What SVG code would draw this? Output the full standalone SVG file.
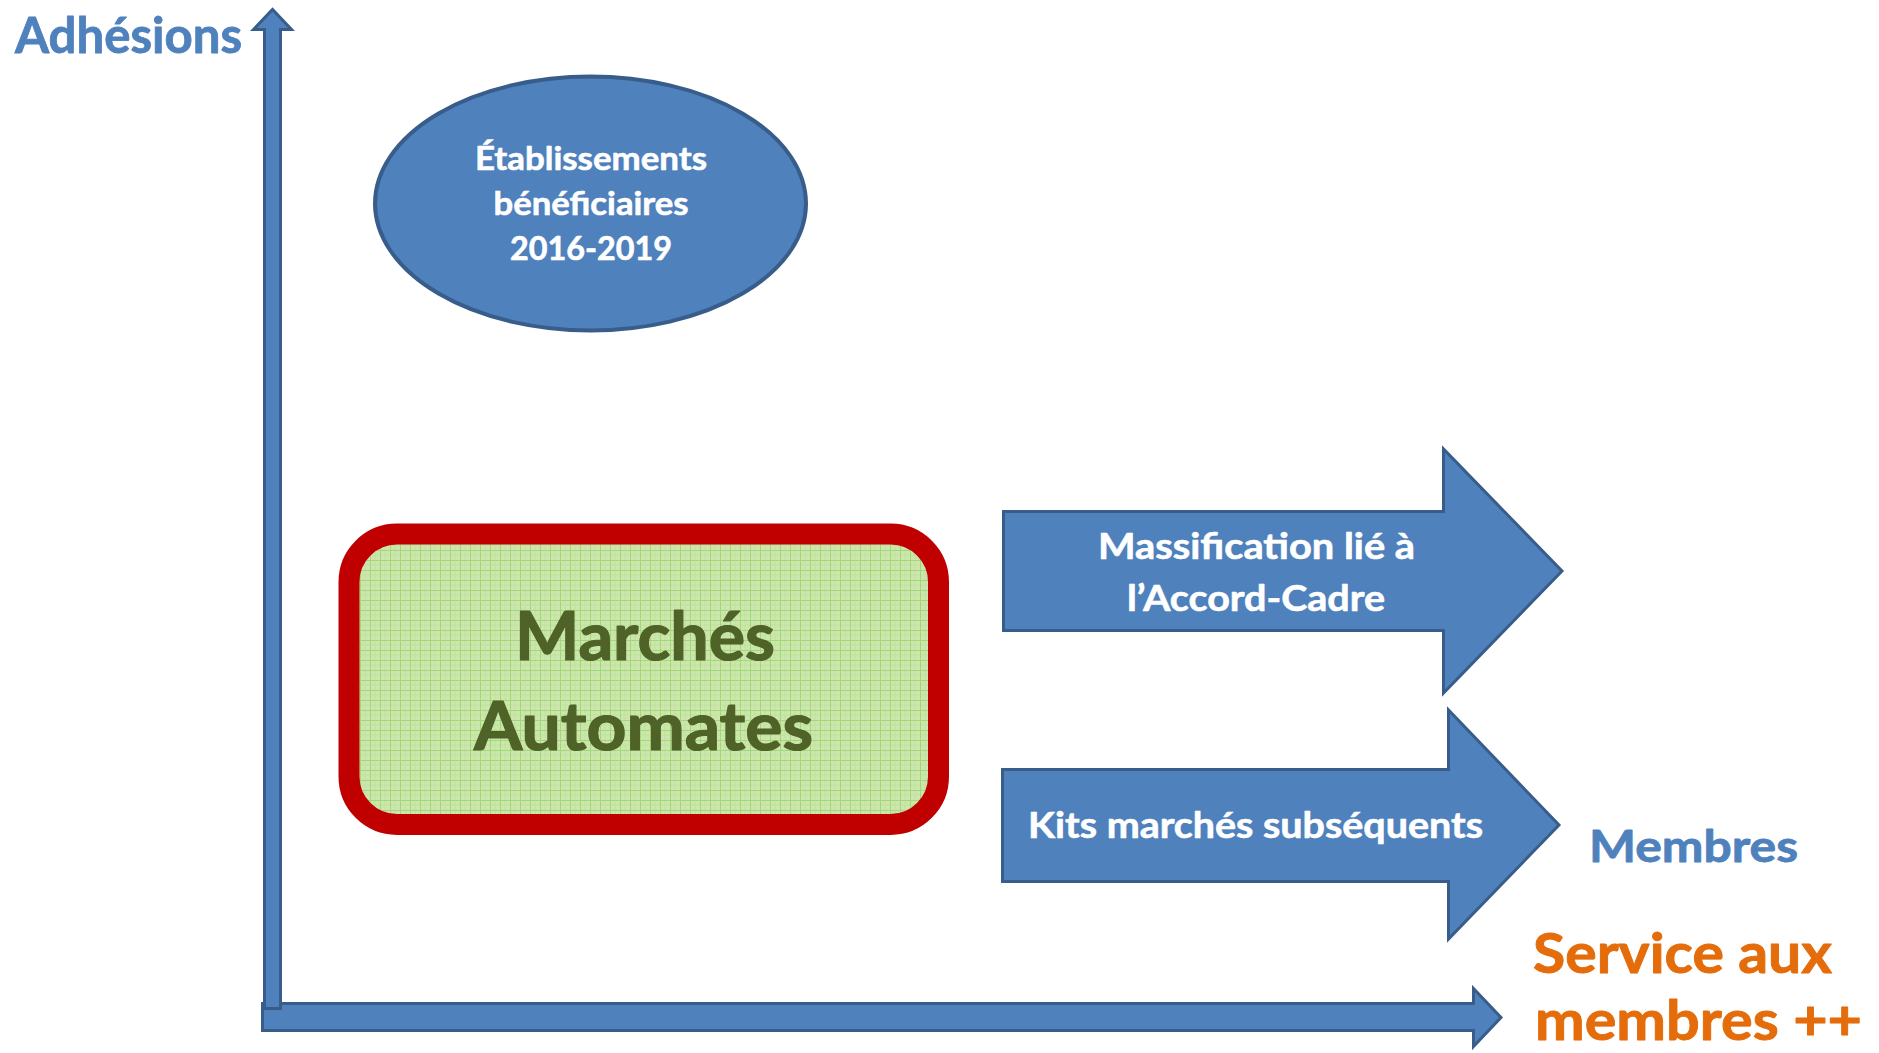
<svg xmlns="http://www.w3.org/2000/svg" width="1879" height="1053" viewBox="0 0 1879 1053">
  <style>
    .t { font-family: Lato, "Open Sans", "Liberation Sans", sans-serif; font-weight: bold; stroke-linejoin: round; }
    .blue-shape { fill: #4F81BD; stroke: #385D8A; stroke-width: 3; stroke-linejoin: miter; }
    .white { fill: #FFFFFF; stroke: #FFFFFF; stroke-width: 0.6; }
    .axis-label { fill: #4F81BD; stroke: #4F81BD; stroke-width: 0.8; }
    .orange { fill: #E46C0A; stroke: #E46C0A; stroke-width: 0.9; }
    .green-text { fill: #4F6228; stroke: #4F6228; stroke-width: 1.2; }
  </style>
  <defs>
    <pattern id="grid" x="0" y="0" width="10" height="10" patternUnits="userSpaceOnUse">
      <rect width="10" height="10" fill="#CCE7AE"/>
      <path d="M0,5 H10 M5,0 V10" stroke="#C2E19F" stroke-width="1" fill="none"/>
      <path d="M0,0.5 H10 M0.5,0 V10" stroke="#A3D777" stroke-width="1" fill="none"/>
    </pattern>
  </defs>

  <rect width="1879" height="1053" fill="#FFFFFF"/>

  <g id="connectors">
    <path id="axis-x" class="blue-shape" d="M262.5,1003.5 H1473.5 V988.5 L1501,1017.5 L1473.5,1046.5 V1030.5 H262.5 Z"/>
    <path id="axis-y" class="blue-shape" d="M264.5,1008.5 V29.5 H253.5 L272.5,9.5 L291.5,29.5 H280.5 V1008.5 Z"/>
  </g>

  <g id="label-adhesions">
    <text class="t axis-label" x="15" y="53" font-size="49" textLength="227" lengthAdjust="spacingAndGlyphs">Adhésions</text>
  </g>

  <g id="node-etablissements">
    <ellipse cx="590.5" cy="203.5" rx="215.5" ry="127" fill="#4F81BD" stroke="#385D8A" stroke-width="4"/>
    <text class="t white" x="591" y="170" font-size="33" text-anchor="middle" textLength="232" lengthAdjust="spacingAndGlyphs">Établissements</text>
    <text class="t white" x="591" y="215" font-size="33" text-anchor="middle" textLength="195" lengthAdjust="spacingAndGlyphs">bénéficiaires</text>
    <text class="t white" x="591" y="260" font-size="33" text-anchor="middle" textLength="162" lengthAdjust="spacingAndGlyphs">2016-2019</text>
  </g>

  <g id="node-marches">
    <rect x="349" y="534" width="589.5" height="290.5" rx="48" ry="48" fill="url(#grid)" stroke="#C00000" stroke-width="21"/>
    <text class="t green-text" x="515" y="660" font-size="66" textLength="260" lengthAdjust="spacingAndGlyphs">Marchés</text>
    <text class="t green-text" x="474" y="750" font-size="66" textLength="339" lengthAdjust="spacingAndGlyphs">Automates</text>
  </g>

  <g id="node-massification">
    <path class="blue-shape" d="M1003.5,511.5 H1443.5 V449 L1562,571 L1443.5,693 V630.5 H1003.5 Z"/>
    <text class="t white" x="1098" y="559" font-size="36" textLength="317" lengthAdjust="spacingAndGlyphs">Massification lié à</text>
    <text class="t white" x="1127" y="611" font-size="36" textLength="258" lengthAdjust="spacingAndGlyphs">l’Accord-Cadre</text>
  </g>

  <g id="node-kits">
    <path class="blue-shape" d="M1002.5,769.5 H1448.5 V710 L1559,825 L1448.5,939 V881.5 H1002.5 Z"/>
    <text class="t white" x="1028" y="838" font-size="36" textLength="455" lengthAdjust="spacingAndGlyphs">Kits marchés subséquents</text>
  </g>

  <g id="label-membres">
    <text class="t axis-label" x="1589" y="862" font-size="44" textLength="209" lengthAdjust="spacingAndGlyphs">Membres</text>
  </g>

  <g id="label-service">
    <text class="t orange" x="1533" y="973" font-size="56" textLength="299" lengthAdjust="spacingAndGlyphs">Service aux</text>
    <text class="t orange" x="1535" y="1040" font-size="56" textLength="327" lengthAdjust="spacingAndGlyphs">membres ++</text>
  </g>
</svg>
